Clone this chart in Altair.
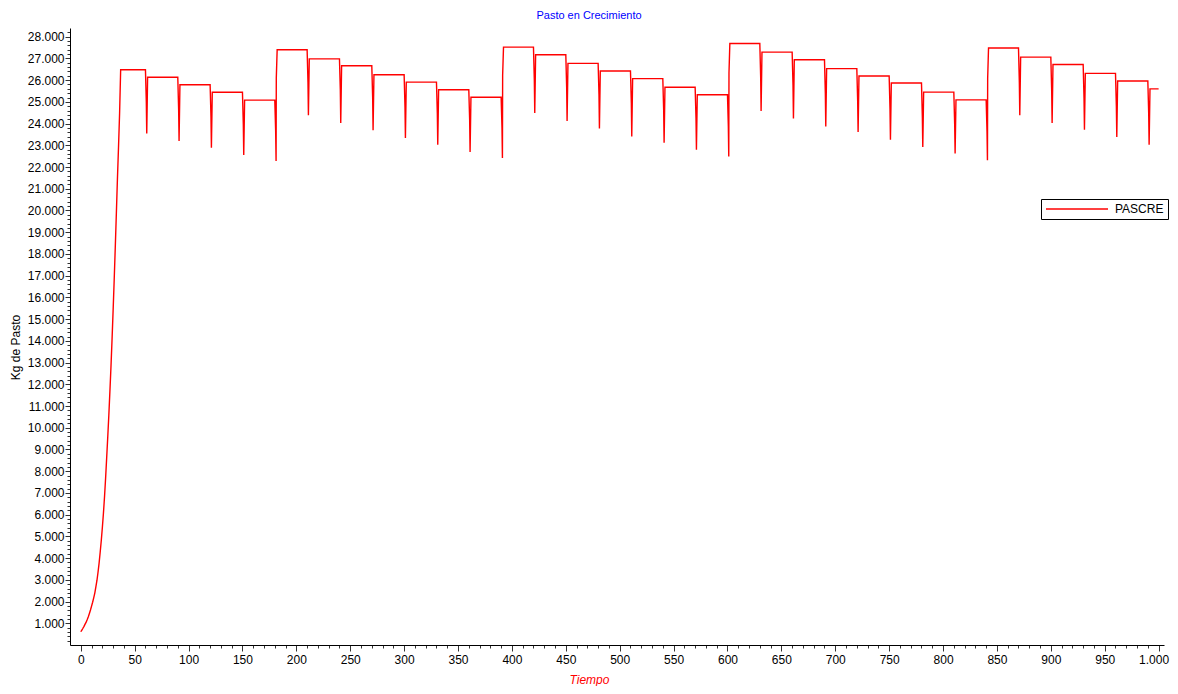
import altair as alt
import pandas as pd

# ---- data ----
growth_days = list(range(38))
growth_values = [610, 690, 770, 860, 960, 1050, 1170, 1300, 1450, 1610,
                 1790, 1970, 2170, 2390, 2680, 2970, 3350, 3770, 4270, 4800,
                 5400, 6050, 6800, 7650, 8600, 9550, 10550, 11650, 12800, 14050,
                 15400, 16800, 18300, 19850, 21450, 22900, 24450, 26480]

boundary_days = [60, 90, 120, 150, 180, 210, 240, 270, 300, 330, 360, 390,
                 420, 450, 480, 510, 540, 570, 600, 630, 660, 690, 720, 750,
                 780, 810, 840, 870, 900, 930, 960, 990]

plateau_values = [26480, 26130, 25790, 25440, 25080, 27400, 26980, 26660, 26250,
                  25910, 25560, 25210, 27520, 27170, 26770, 26420, 26070, 25670,
                  25330, 27690, 27290, 26940, 26530, 26190, 25870, 25450, 25090,
                  27480, 27060, 26720, 26310, 25960, 25600]

drop_values = [24990, 24630, 24300, 23960, 23660, 25880, 25530, 25200, 24760,
               24460, 24150, 23800, 25990, 25650, 25300, 24940, 24610, 24230,
               23870, 26140, 25760, 25380, 25020, 24650, 24300, 23950, 23610,
               25870, 25500, 25150, 24790, 24460]

spike_values = [23540, 23200, 22890, 22550, 22280, 24380, 24030, 23690, 23340,
                23030, 22690, 22420, 24490, 24120, 23770, 23410, 23120, 22800,
                22490, 24580, 24230, 23870, 23610, 23260, 22920, 22620, 22310,
                24380, 24030, 23720, 23380, 23030]

reset_days = [180, 390, 600, 840]
reset_mid_values = [26100, 26220, 26330, 26070]

end_day = 1000

x_minor = list(range(0, 1001, 10))
y_minor = list(range(200, 28201, 200))

# ---- build the series ----
rows = list(zip(growth_days, growth_values))
for k, tb in enumerate(boundary_days):
    rows.append((tb, plateau_values[k]))
    rows.append((tb + 0.8, drop_values[k]))
    rows.append((tb + 1.2, spike_values[k]))
    if tb in reset_days:
        rows.append((tb + 1.4, reset_mid_values[reset_days.index(tb)]))
        rows.append((tb + 2.2, plateau_values[k + 1]))
    else:
        rows.append((tb + 2.0, plateau_values[k + 1]))
rows.append((end_day, plateau_values[-1]))

df = pd.DataFrame(rows, columns=["Tiempo", "PASCRE"])
df["i"] = range(len(df))
df["serie"] = "PASCRE"

FONT = "Liberation Sans"

x_axis = alt.Axis(
    values=x_minor,
    labelExpr="datum.value % 50 === 0 ? replace(format(datum.value, ',d'), ',', '.') : ''",
    tickSize={"condition": {"test": "datum.value % 50 === 0", "value": 6}, "value": 3},
    labelOffset={"condition": {"test": "datum.value === 1000", "value": -5}, "value": 0},
    labelOverlap=False,
    labelFlush=False,
    labelPadding=3,
    title="Tiempo",
    titleColor="red",
    titleFontStyle="italic",
    titleFontWeight="normal",
    titleFontSize=12,
    titleFont=FONT,
    titleX=519,
    titleY=34,
    titleAlign="center",
    titleBaseline="middle",
)

y_axis = alt.Axis(
    values=y_minor,
    labelExpr="datum.value % 1000 === 0 ? replace(format(datum.value, ',d'), ',', '.') : ''",
    tickSize={"condition": {"test": "datum.value % 1000 === 0", "value": 5}, "value": 3},
    labelOverlap=False,
    labelFlush=False,
    labelPadding=1,
    title="Kg de Pasto",
    titleColor="black",
    titleFontWeight="normal",
    titleFontSize=12,
    titleFont=FONT,
    titleAngle=270,
    titleX=-55,
    titleY=319,
    titleAlign="center",
    titleBaseline="middle",
)

chart = alt.Chart(df).mark_line(strokeWidth=1.4, interpolate="linear").encode(
    x=alt.X("Tiempo:Q", axis=x_axis,
            scale=alt.Scale(domain=[-10, 1005], nice=False, zero=False)),
    y=alt.Y("PASCRE:Q", axis=y_axis,
            scale=alt.Scale(domain=[0, 28400], nice=False, zero=False)),
    order=alt.Order("i:Q"),
    color=alt.Color(
        "serie:N",
        scale=alt.Scale(range=["#FF0000"]),
        legend=alt.Legend(
            title=None,
            orient="none",
            legendX=971,
            legendY=171,
            strokeColor="black",
            fillColor="white",
            padding=4,
            symbolType="M-6,0H6",
            symbolSize=107,
            symbolOffset=26,
            symbolStrokeWidth=1.5,
            labelFont=FONT,
            labelFontSize=12,
            labelColor="black",
            labelOffset=32,
        ),
    ),
).properties(
    width=1094,
    height=617,
    autosize=alt.AutoSizeParams(type="none"),
    padding={"left": 62, "top": 20, "right": 6, "bottom": 41},
    title=alt.TitleParams(
        "Pasto en Crecimiento",
        color="#0000FF",
        fontSize=11,
        font=FONT,
        fontWeight="normal",
        anchor="middle",
        dx=-28,
        offset=5,
    ),
).configure_view(
    stroke=None
).configure_axis(
    grid=False,
    labelFont=FONT,
    labelFontSize=12,
    labelColor="black",
    domainColor="black",
    domainWidth=1,
    tickColor="#333333",
    tickWidth=1,
)

chart.save("out.html", embed_options={"renderer": "svg", "actions": False})
